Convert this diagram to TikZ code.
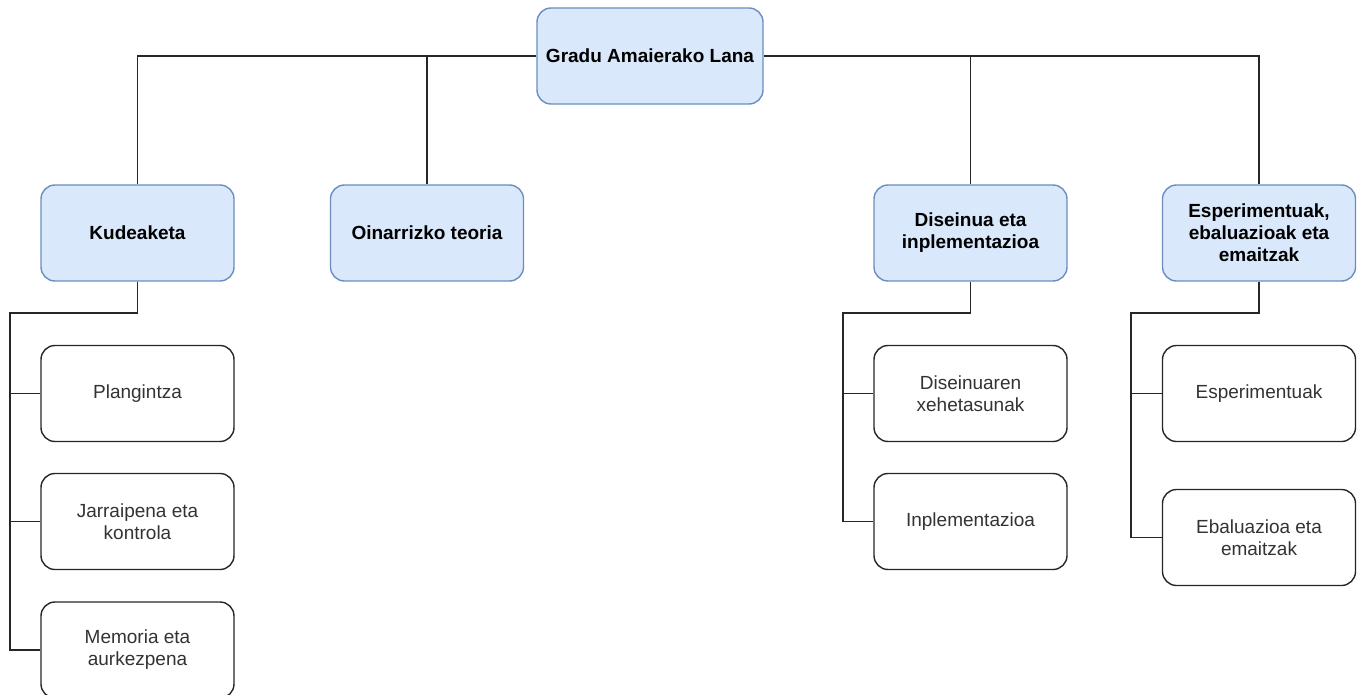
\documentclass[tikz,border=0pt]{standalone}
\usepackage{fontspec}
\setmainfont{Liberation Sans}
\begin{document}
\begin{tikzpicture}[x=1pt,y=-1pt,
  topbox/.style={draw=blueedge, fill=bluefill, line width=1.4pt, rounded corners=14pt,
    minimum width=193pt, minimum height=96pt, align=center,
    font=\fontsize{19}{22}\selectfont\bfseries, text=black, inner sep=2pt},
  leafbox/.style={draw=black!85, fill=white, line width=1.4pt, rounded corners=14pt,
    minimum width=193pt, minimum height=96pt, align=center,
    font=\fontsize{19}{22}\selectfont, text=black!80, inner sep=2pt},
  link/.style={draw=black!85, line width=1.5pt}]
\definecolor{bluefill}{HTML}{DAE8FC}
\definecolor{blueedge}{HTML}{6C8EBF}
\useasboundingbox (0,0) rectangle (1362,695);

% root
\node[topbox, minimum width=226pt] (root) at (650,56) {Gradu Amaierako Lana};

% main chapters
\node[topbox] (kud) at (137.5,233) {Kudeaketa};
\node[topbox] (oin) at (427,233) {Oinarrizko teoria};
\node[topbox] (dis) at (970.5,233) {Diseinua eta\\inplementazioa};
\node[topbox] (esp) at (1259,233) {Esperimentuak,\\ebaluazioak eta\\emaitzak};

% sections
\node[leafbox] (pla) at (137.5,393.5) {Plangintza};
\node[leafbox] (jar) at (137.5,521.5) {Jarraipena eta\\kontrola};
\node[leafbox] (mem) at (137.5,650) {Memoria eta\\aurkezpena};
\node[leafbox] (dxe) at (970.5,393.5) {Diseinuaren\\xehetasunak};
\node[leafbox] (inp) at (970.5,521.5) {Inplementazioa};
\node[leafbox] (exp) at (1259,393.5) {Esperimentuak};
\node[leafbox] (ebe) at (1259,537.5) {Ebaluazioa eta\\emaitzak};

% trunk points of the section buses
\coordinate (kt) at (10,313);
\coordinate (dt) at (843,313);
\coordinate (et) at (1131,313);

% root to chapters
\draw[link] (root.west) -| (kud.north);
\draw[link] (root.west) -| (oin.north);
\draw[link] (root.east) -| (dis.north);
\draw[link] (root.east) -| (esp.north);

% chapters to sections
\draw[link] (kud.south) |- (kt) |- (pla.west);
\draw[link] (kt) |- (jar.west);
\draw[link] (kt) |- (mem.west);
\draw[link] (dis.south) |- (dt) |- (dxe.west);
\draw[link] (dt) |- (inp.west);
\draw[link] (esp.south) |- (et) |- (exp.west);
\draw[link] (et) |- (ebe.west);
\end{tikzpicture}
\end{document}
